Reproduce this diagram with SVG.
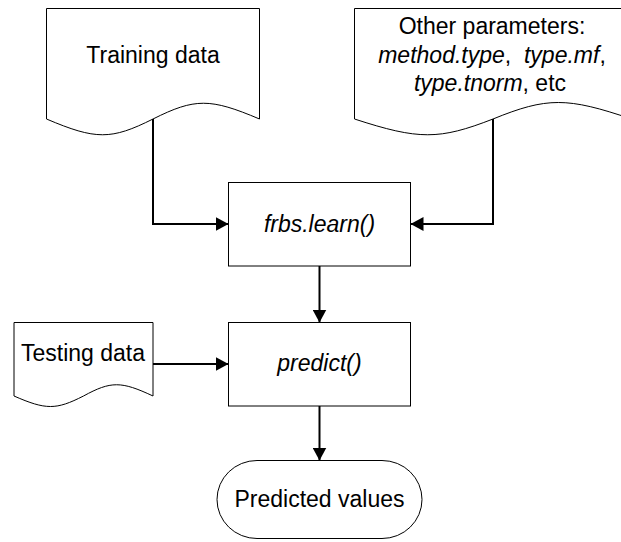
<svg xmlns="http://www.w3.org/2000/svg" width="621" height="542" viewBox="0 0 621 542">
  <style>
    .shape { fill: #ffffff; stroke: #000000; stroke-width: 1; }
    .label { font-family: "Liberation Sans", Arial, sans-serif; font-size: 23px; fill: #000000; text-anchor: middle; }
    .it { font-style: italic; }
    .pre { white-space: pre; }
    .conn { fill: none; stroke: #000000; stroke-width: 2; marker-end: url(#arrow); }
  </style>
  <defs>
    <marker id="arrow" viewBox="0 0 13 14" refX="13" refY="7" markerWidth="13" markerHeight="14" markerUnits="userSpaceOnUse" orient="auto">
      <path d="M0,0 L13,7 L0,14 Z" fill="#000000"/>
    </marker>
  </defs>

  <rect width="621" height="542" fill="#ffffff"/>

  <!-- document: training data -->
  <g id="training-data">
    <path class="shape" d="M46.5,8.5 L259.5,8.5 L259.5,119 C210,98 195,98 153,119 C111,140 96,140 46.5,119 Z"/>
    <text class="label" x="153" y="63">Training data</text>
  </g>

  <!-- document: other parameters (runs past the right edge) -->
  <g id="other-parameters">
    <path class="shape" d="M354.5,8.5 L631.5,8.5 L631.5,119 C567,97 547,97 493,119 C439,140 419,140 354.5,119 Z"/>
    <text class="label" x="492" y="34">Other parameters:</text>
    <text class="label pre" x="492" y="63" xml:space="preserve"><tspan class="it">method.type</tspan>,  <tspan class="it">type.mf</tspan>,</text>
    <text class="label" x="490" y="91"><tspan class="it">type.tnorm</tspan>, etc</text>
  </g>

  <!-- process: frbs.learn() -->
  <g id="frbs-learn">
    <rect class="shape" x="228.5" y="182.5" width="182" height="83.5"/>
    <text class="label it" x="319.5" y="232">frbs.learn()</text>
  </g>

  <!-- document: testing data -->
  <g id="testing-data">
    <path class="shape" d="M14,322.5 L153,322.5 L153,396 C121,381 111,381 83.5,396 C56,410 46,410 14,396 Z"/>
    <text class="label" x="83" y="361">Testing data</text>
  </g>

  <!-- process: predict() -->
  <g id="predict">
    <rect class="shape" x="228.5" y="322.5" width="182" height="83.5"/>
    <text class="label it" x="319.5" y="371">predict()</text>
  </g>

  <!-- terminator: predicted values -->
  <g id="predicted-values">
    <rect class="shape" x="217" y="460.5" width="205" height="78" rx="40" ry="39"/>
    <text class="label" x="319.5" y="507">Predicted values</text>
  </g>

  <!-- connectors -->
  <g id="connectors">
    <path class="conn" d="M153,119 L153,224 L228.5,224"/>
    <path class="conn" d="M493,119 L493,224 L410.5,224"/>
    <path class="conn" d="M319.5,266 L319.5,322.5"/>
    <path class="conn" d="M153,364 L228.5,364"/>
    <path class="conn" d="M319.5,406 L319.5,460.5"/>
  </g>
</svg>
